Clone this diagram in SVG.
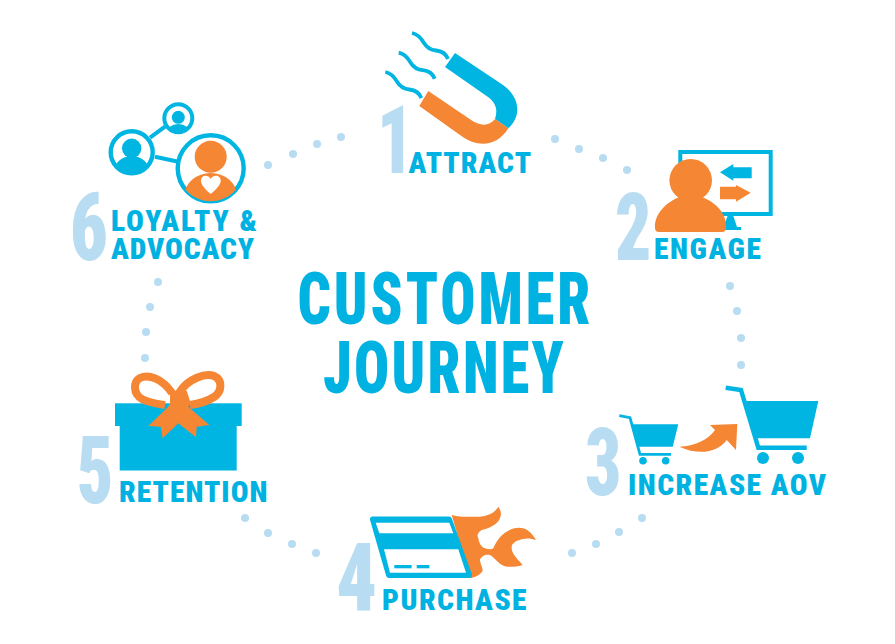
<svg xmlns="http://www.w3.org/2000/svg" width="895" height="644" viewBox="0 0 895 644">
<style>
text{font-family:Roboto,"Liberation Sans",Arial,sans-serif;font-weight:900;font-stretch:75%}
.l{font-size:29.5px;fill:#00b2e1}
.n{font-size:95px;fill:#b8dcf2}
.t{font-size:73px;fill:#00b2e1}
.d{fill:#b8dcf2}
.b{fill:#00b5e2}
.o{fill:#f58634}
.w{fill:#fff}
.s{fill:none;stroke:#00b5e2}
</style>
<defs>
<path id="sq" d="M412 33C418 34 421 38 424 43C427 48 431 50 436 50.5C442 51 446 54 448 59" fill="none" stroke="#00b5e2" stroke-width="3.8"/>
<clipPath id="c1"><circle cx="178.3" cy="118.3" r="14"/></clipPath>
<clipPath id="c2"><circle cx="131.7" cy="152.3" r="21"/></clipPath>
<clipPath id="c3"><circle cx="210.7" cy="168.3" r="33"/></clipPath>
</defs>
<rect width="895" height="644" fill="#fff"/>
<g id="connectors">
<g id="dots-1-2"><circle class="d" cx="555" cy="139" r="4"/><circle class="d" cx="579" cy="149" r="4"/><circle class="d" cx="603" cy="158" r="4"/><circle class="d" cx="627" cy="170" r="4"/></g>
<g id="dots-2-3"><circle class="d" cx="730" cy="286" r="4"/><circle class="d" cx="737" cy="311" r="4"/><circle class="d" cx="741" cy="338" r="4"/><circle class="d" cx="741" cy="365" r="4"/></g>
<g id="dots-3-4"><circle class="d" cx="642" cy="518" r="4"/><circle class="d" cx="619" cy="532" r="4"/><circle class="d" cx="596" cy="544" r="4"/><circle class="d" cx="572" cy="553" r="4"/></g>
<g id="dots-4-5"><circle class="d" cx="316" cy="553" r="4"/><circle class="d" cx="292" cy="544" r="4"/><circle class="d" cx="268" cy="533" r="4"/><circle class="d" cx="245" cy="518" r="4"/></g>
<g id="dots-5-6"><circle class="d" cx="145" cy="358" r="4"/><circle class="d" cx="146" cy="332" r="4"/><circle class="d" cx="150" cy="307" r="4"/><circle class="d" cx="158" cy="282" r="4"/></g>
<g id="dots-6-1"><circle class="d" cx="268" cy="165" r="4"/><circle class="d" cx="293" cy="154" r="4"/><circle class="d" cx="317" cy="144" r="4"/><circle class="d" cx="341" cy="137" r="4"/></g>
</g>
<g id="title">
<text class="t" transform="translate(297.5 323.5) scale(.8 1)" textLength="366" lengthAdjust="spacing">CUSTOMER</text>
<text class="t" transform="translate(323 392.5) scale(.8 1)" textLength="301" lengthAdjust="spacing">JOURNEY</text>
</g>
<g id="node-1">
<use href="#sq"/><use href="#sq" transform="translate(-13.3 19.7)"/><use href="#sq" transform="translate(-26.7 39)"/>
<path class="b" d="M445 67L455 53L503 85C520 97 522 116 508.3 128.3L495 119C498 110 496 103 488 97Z"/>
<path class="o" d="M419.3 106L428.3 91L470 119.3C481 127 489 126 495 119L508.3 128.3C497 147 477 148 460 135Z"/>
<text class="n" transform="translate(377 173) scale(.75 1)">1</text>
<text class="l" x="408.5" y="173" textLength="122.5" lengthAdjust="spacing">ATTRACT</text>
</g>
<g id="node-2">
<rect x="680.3" y="152" width="90.4" height="62" fill="none" stroke="#00b5e2" stroke-width="4"/>
<path class="b" d="M728 215H733L737 227H741V230H722Z"/>
<path class="b" d="M720 172.3L733.3 164V167.3H751.7V178.3H733.3V180.7Z"/>
<path class="o" d="M720 186.7H736V185L750.7 192.7L736 201.7V199.3H720Z"/>
<circle class="o" cx="690.7" cy="180.3" r="21.3"/>
<path class="o" d="M655 228C654 213 668 201 680 197C686 202 696 202 702 197C715 202 727 213 726 228Q726 232 722 232H659Q655 232 655 228Z"/>
<text class="n" transform="translate(615 260) scale(.75 1)">2</text>
<text class="l" x="654" y="259" textLength="107" lengthAdjust="spacing">ENGAGE</text>
</g>
<g id="node-3">
<path class="s" d="M619.3 415.7L630 417.7L640 454.3H671" stroke-width="2.8"/>
<path class="b" d="M631.7 424.3H678.3L672.7 446.7H638.3Z"/>
<circle class="b" cx="643" cy="460.7" r="3.8"/><circle class="b" cx="665.7" cy="460.7" r="3.8"/>
<path class="s" d="M725.7 387.7L741 390L758.3 447.7H806.7" stroke-width="4.4"/>
<path class="b" d="M742.3 401H818.3L810 438.3H755Z"/>
<circle class="b" cx="763" cy="458" r="6"/><circle class="b" cx="798" cy="458" r="6"/>
<path class="o" d="M679.3 446.7C695 446 708 440 715 430L710 425L737.3 424L736 450L726.7 440C718 452 700 456 679.3 446.7Z"/>
<text class="n" transform="translate(585 495) scale(.75 1)">3</text>
<text class="l" x="628" y="495" textLength="198" lengthAdjust="spacing">INCREASE AOV</text>
</g>
<g id="node-4">
<path class="o" d="M451.7 515C460 517 467 517 473 516.7C482 517 493 516 498.3 506.7C502 512 501 516 500 518C498 524 490 528 481.7 530C477 533 477 536 478.3 538C479 543 481 547 485 548.3C488 549 491 550 493.3 548.3C497 540 502 534 506.7 531.7C512 528 518 527 523.3 528.3C529 530 533 535 536 540C531 538 526 538 521.7 539.3C516 541 512 543 511.7 546.7C511 551 514 555 516.7 558.3C519 561 521 563 522.7 565C516 567 511 567 506.7 566.7C500 566 495 558 490 555C486 554 481 556 480 560C480 563 482 566 482.7 570C482 574 476 577 470 578.3Z"/>
<path class="b" stroke="#00b5e2" stroke-width="6" stroke-linejoin="round" d="M373 519.5H449L469 575H389Z"/>
<path class="w" d="M375.7 522.7H449.3L453.3 533.3H379.3Z"/>
<path class="w" d="M384 549.3H458.3L466 572.7H390Z"/>
<rect class="b" x="394.3" y="565" width="17.3" height="3.3"/><rect class="b" x="416.7" y="565" width="12.7" height="3.3"/>
<text class="n" transform="translate(336 610) scale(.85 1)">4</text>
<text class="l" x="382" y="610" textLength="144.5" lengthAdjust="spacing">PURCHASE</text>
</g>
<g id="node-5">
<rect class="b" x="115" y="403.3" width="126.7" height="22.7"/>
<rect class="b" x="119.7" y="426" width="117" height="44.5"/>
<path d="M172 393C162 378 148 374 140 378C133 382 133 394 142 399C150 403 158 404 165 405" fill="none" stroke="#f58634" stroke-width="8"/>
<path d="M179 393C188 378 206 373 214 376C223 380 222 392 214 397C206 402 198 404 190 405" fill="none" stroke="#f58634" stroke-width="8"/>
<path class="o" d="M170 390.7H186.7L190.7 403.3L188.3 406.7L209.3 425L196.7 426.7L196 437.3L178.3 423.3L162.7 438.3L160.7 426.7L148.3 426L168.3 406.7L170 403.3Z"/>
<text class="n" transform="translate(77 503) scale(.75 1)">5</text>
<text class="l" x="119" y="502" textLength="148.5" lengthAdjust="spacing">RETENTION</text>
</g>
<g id="node-6">
<path class="s" stroke-width="4" d="M150 137.7L165 126.7M155 156.7L178.3 161.7"/>
<circle class="s" cx="178.3" cy="118.3" r="14" stroke-width="4" fill="#fff"/>
<g clip-path="url(#c1)"><circle class="b" cx="178.3" cy="117.3" r="6.5"/><ellipse class="b" cx="178.3" cy="133" rx="12" ry="9"/></g>
<circle class="s" cx="131.7" cy="152.3" r="21" stroke-width="4.4"/>
<g clip-path="url(#c2)"><circle class="b" cx="131.7" cy="148.3" r="9.7"/><ellipse class="b" cx="131.7" cy="172" rx="18" ry="16"/></g>
<circle class="s" cx="210.7" cy="168.3" r="33" stroke-width="4.4"/>
<g clip-path="url(#c3)"><circle class="o" cx="210.7" cy="156.7" r="16"/><ellipse class="o" cx="210.7" cy="195" rx="26" ry="22"/></g>
<path class="w" d="M210.7 194C205 189 201 185 201 180.5C201 175 208 174 210.7 179C213.4 174 220.7 175 220.7 180.5C220.7 185 216.4 189 210.7 194Z"/>
<text class="n" transform="translate(70 260) scale(.78 1)">6</text>
<text class="l" x="111" y="231" textLength="146" lengthAdjust="spacing">LOYALTY &amp;</text>
<text class="l" x="111" y="259" textLength="143" lengthAdjust="spacing">ADVOCACY</text>
</g>
</svg>
